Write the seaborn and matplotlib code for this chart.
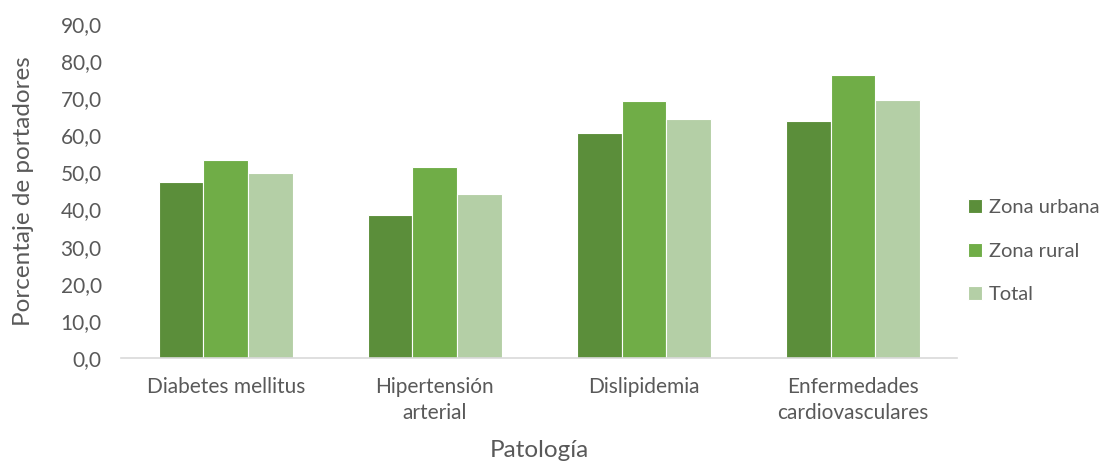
import pandas as pd
import seaborn as sns
import matplotlib.pyplot as plt
from matplotlib.ticker import FuncFormatter

sns.set_theme(style="white")
plt.rcParams['font.family'] = ['Lato', 'DejaVu Sans']

# Data
patologias = ["Diabetes mellitus", "Hipertensión\narterial", "Dislipidemia",
              "Enfermedades\ncardiovasculares"]
zona_urbana = [47.3, 38.4, 60.7, 63.8]
zona_rural = [53.2, 51.4, 69.1, 76.3]
total = [49.9, 44.3, 64.4, 69.5]
series = ["Zona urbana", "Zona rural", "Total"]
palette = {"Zona urbana": "#5B8E3A", "Zona rural": "#70AD47", "Total": "#B4CFA6"}

df = pd.DataFrame({
    "Patología": patologias * 3,
    "Valor": zona_urbana + zona_rural + total,
    "Serie": [s for s in series for _ in patologias],
})

text_color = "#595959"

fig = plt.figure(figsize=(11.12, 4.68), dpi=100)
ax = fig.add_axes([0.109, 0.235, 0.752, 0.714])

sns.barplot(data=df, x="Patología", y="Valor", hue="Serie", hue_order=series,
            palette=palette, width=0.64, saturation=1, edgecolor="white",
            linewidth=0.8, ax=ax)

ax.set_ylim(0, 90)
ax.set_yticks(range(0, 91, 10))
ax.yaxis.set_major_formatter(FuncFormatter(lambda v, p: f"{v:.1f}".replace(".", ",")))
ax.set_xlim(-0.5, 3.5)

for side in ["top", "right", "left"]:
    ax.spines[side].set_visible(False)
ax.spines["bottom"].set_color("#D9D9D9")
ax.spines["bottom"].set_linewidth(1.2)

ax.tick_params(axis="both", colors=text_color, labelsize=15, length=0)
ax.tick_params(axis="x", pad=14)
ax.tick_params(axis="y", pad=14)
for lbl in ax.get_xticklabels():
    lbl.set_linespacing(1.35)

ax.set_xlabel("Patología", fontsize=17.5, color=text_color, labelpad=12)
ax.set_ylabel("Porcentaje de portadores", fontsize=17.5, color=text_color, labelpad=19)

ax.legend(loc="center left", bbox_to_anchor=(1.0, 0.32), frameon=False,
          borderaxespad=0.1, fontsize=14.5, labelcolor=text_color,
          handlelength=0.7, handleheight=0.7, handletextpad=0.35, labelspacing=1.3)

fig.savefig("out.png", dpi=100)
